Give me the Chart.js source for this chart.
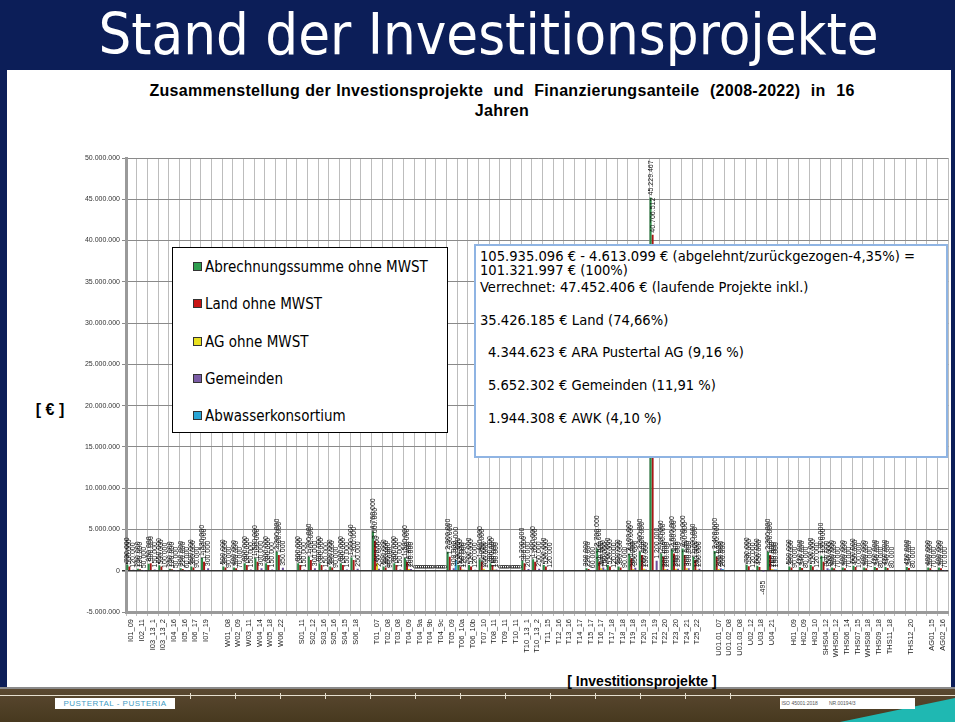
<!DOCTYPE html>
<html><head><meta charset="utf-8">
<script src="https://cdn.jsdelivr.net/npm/chart.js@4"></script>
<style>
html,body{margin:0;padding:0;}
body{width:955px;height:722px;position:relative;overflow:hidden;background:#0c1e58;font-family:"Liberation Sans",Arial,sans-serif;}
#head{position:absolute;left:0;top:0;width:955px;height:70px;background:#0c1e58;}
#head h1{margin:0;position:absolute;left:11px;width:955px;top:3px;text-align:center;color:#fff;font-weight:normal;font-size:57.5px;font-family:"DejaVu Sans Condensed","DejaVu Sans",sans-serif;font-stretch:condensed;line-height:64px;white-space:nowrap;}
#panel{position:absolute;left:7px;top:70px;width:944px;height:617px;background:#fff;}
#pline{position:absolute;left:0;top:687px;width:955px;height:2px;background:#8a8a8a;}
#foot{position:absolute;left:0;top:689px;width:955px;height:33px;background:linear-gradient(#5a4830,#47391f);}
#fline{position:absolute;left:0;top:695px;width:955px;height:1px;background:#e6dfcf;}
.tk{position:absolute;top:693px;width:1px;height:6px;background:#e6dfcf;}
#pbox{position:absolute;left:55px;top:698px;width:120px;height:11px;background:#fff;color:#3f9cc4;font-size:8px;line-height:11px;text-align:center;letter-spacing:0.5px;}
#iso{position:absolute;left:780px;top:698px;width:135px;height:11px;background:#fff;color:#555;font-size:5px;line-height:11px;}
#teal{position:absolute;left:0;top:0;width:955px;height:722px;background:#1fb8b2;clip-path:polygon(840px 722px,955px 698px,955px 722px);}
canvas{position:absolute;left:0;top:0;}
#ctitle{position:absolute;left:100px;top:81px;width:804px;text-align:center;font-weight:bold;font-size:16px;letter-spacing:0.3px;word-spacing:0.5px;line-height:20px;color:#000;}
#ylab{position:absolute;left:20px;top:400px;width:60px;text-align:center;font-weight:bold;font-size:16px;line-height:20px;}
#xlab{position:absolute;left:542px;top:673px;width:200px;text-align:center;font-weight:bold;font-size:14px;line-height:16px;}
#legend{position:absolute;left:172px;top:247px;width:274px;height:184px;border:1px solid #000;background:#fff;}
.li{position:absolute;left:20px;height:18px;font-family:"DejaVu Sans Condensed","DejaVu Sans",sans-serif;font-stretch:condensed;font-size:15px;line-height:18px;white-space:nowrap;color:#000;}
.li i{display:inline-block;width:7px;height:7px;border:1px solid #333;margin-right:3px;vertical-align:1px;}
#note{position:absolute;left:474px;top:244px;width:470px;height:210px;border:2px solid #8fb4e3;background:#fff;}
.nl{position:absolute;font-family:"DejaVu Sans Condensed","DejaVu Sans",sans-serif;font-stretch:condensed;font-size:14.6px;line-height:16px;white-space:nowrap;color:#000;}
</style></head>
<body>
<div id="head"><h1>Stand der Investitionsprojekte</h1></div>
<div id="panel"></div>
<div id="pline"></div>
<div id="foot"></div>
<div id="fline"></div>
<div class="tk" style="left:190px"></div><div class="tk" style="left:235px"></div><div class="tk" style="left:280px"></div><div class="tk" style="left:325px"></div><div class="tk" style="left:370px"></div><div class="tk" style="left:415px"></div><div class="tk" style="left:460px"></div><div class="tk" style="left:505px"></div><div class="tk" style="left:550px"></div><div class="tk" style="left:595px"></div><div class="tk" style="left:640px"></div><div class="tk" style="left:685px"></div><div class="tk" style="left:730px"></div>
<div id="teal"></div>
<div id="pbox">PUSTERTAL - PUSTERIA</div>
<div id="iso">&nbsp;ISO 45001:2018 &nbsp;&nbsp;&nbsp;&nbsp;&nbsp;&nbsp; NR.00194/3</div>
<div id="ctitle">Zusammenstellung der Investionsprojekte &nbsp;und &nbsp;Finanzierungsanteile &nbsp;(2008-2022) &nbsp;in &nbsp;16<br>Jahren</div>
<div id="ylab">[ € ]</div>
<div id="xlab">[ Investitionsprojekte ]</div>
<canvas id="c" width="955" height="722"></canvas>
<div id="legend">
 <div class="li" style="top:10px"><i style="background:#2e9e4f"></i>Abrechnungssumme ohne MWST</div>
 <div class="li" style="top:47px"><i style="background:#c81414"></i>Land ohne MWST</div>
 <div class="li" style="top:85px"><i style="background:#e8e020"></i>AG ohne MWST</div>
 <div class="li" style="top:122px"><i style="background:#7b5ca6"></i>Gemeinden</div>
 <div class="li" style="top:159px"><i style="background:#2aa6d6"></i>Abwasserkonsortium</div>
</div>
<div id="note">
 <div class="nl" style="left:4px;top:2px">105.935.096 € - 4.613.099 € (abgelehnt/zurückgezogen-4,35%) =</div>
 <div class="nl" style="left:4px;top:16px">101.321.997 € (100%)</div>
 <div class="nl" style="left:4px;top:33px">Verrechnet: 47.452.406 € (laufende Projekte inkl.)</div>
 <div class="nl" style="left:4px;top:66px">35.426.185 € Land (74,66%)</div>
 <div class="nl" style="left:12px;top:98px">4.344.623 € ARA Pustertal AG (9,16 %)</div>
 <div class="nl" style="left:12px;top:131px">5.652.302 € Gemeinden (11,91 %)</div>
 <div class="nl" style="left:12px;top:164px">1.944.308 € AWK (4,10 %)</div>
</div>
<script>
const categories = ['I01_09','I02_11','I03_13_1','I03_13_2','I04_16','I05_16','I06_17','I07_19','',
 'W01_08','W02_09','W03_11','W04_14','W05_18','W06_22','',
 'S01_11','S02_12','S03_16','S05_16','S04_15','S06_18','',
 'T01_07','T02_08','T03_08','T04_09','T04_9a','T04_9b','T04_9c','T05_09','T06_10a','T06_10b','T07_10','T08_11','T09_11','T10_11','T10_13_1','T10_13_2','T11_15','T12_16','T13_16','T14_17','T15_17','T16_17','T17_18','T18_18','T19_18','T20_19','T21_19','T22_20','T23_20','T24_21','T25_22','',
 'U01.01_07','U01.02_08','U01.03_08','U02_12','U03_18','U04_21','',
 'H01_09','H02_09','H03_10','SHS04_12','WHS05_12','THS06_14','THS07_15','WHS08_18','THS09_18','THS11_18','',
 'THS12_20','','AG01_15','AG02_16'];

const abrechnungssumme = [730000,250000,850000,650000,250000,300000,500000,1530000,null,
 500000,400000,900000,1500000,900000,2300000,null,
 900000,1700000,900000,500000,900000,1600000,null,
 4760000,500000,900000,1500000,0,0,0,2300000,700000,700000,1400000,900000,0,0,1200000,1400000,700000,null,null,null,300000,2700000,700000,500000,2100000,2300000,45229467,2100000,2600000,2700000,1700000,null,
 2400000,null,null,730000,600000,2300000,null,
 500000,450000,700000,1800000,400000,400000,600000,400000,450000,450000,null,
 450000,null,400000,400000];

const land = [500000,180000,900000,500000,180000,220000,380000,1100000,null,
 380000,300000,680000,1100000,680000,1900000,null,
 680000,1300000,680000,380000,680000,1300000,null,
 3600000,380000,680000,1100000,0,0,0,1700000,520000,520000,1050000,680000,0,0,900000,1100000,520000,null,null,null,220000,1100000,520000,380000,1500000,1900000,40706512,1700000,2100000,1900000,1300000,null,
 1700000,null,null,550000,450000,1900000,null,
 380000,340000,520000,1100000,300000,300000,450000,300000,340000,340000,null,
 340000,null,300000,300000];

const ag = [null,null,null,null,null,null,null,null,null,
 null,null,null,null,null,null,null,
 null,null,null,null,null,null,null,
 900000,100000,null,200000,0,0,0,null,150000,null,250000,150000,0,0,null,null,null,null,null,null,null,300000,null,null,200000,250000,null,200000,250000,300000,150000,null,
 200000,null,null,null,null,200000,null,
 null,null,null,null,null,null,null,null,null,null,null,
 null,null,null,null];

const gemeinden = [120000,50000,150000,100000,50000,60000,90000,300000,null,
 90000,70000,150000,300000,150000,350000,null,
 150000,300000,150000,90000,150000,250000,null,
 250000,90000,150000,200000,0,0,0,300000,120000,120000,100000,150000,0,0,200000,250000,120000,null,null,null,60000,400000,120000,90000,350000,150000,1200000,200000,250000,300000,250000,null,
 300000,null,null,120000,-495,150000,null,
 90000,80000,120000,300000,70000,70000,100000,70000,80000,80000,null,
 80000,null,70000,70000];

const abwasserkonsortium = [null,null,null,null,null,null,null,null,null,
 null,null,null,null,null,null,null,
 null,null,null,null,null,null,null,
 null,null,null,null,0,0,0,1300000,null,null,null,null,0,0,null,null,null,null,null,null,null,150000,null,null,null,null,null,null,null,null,null,null,
 200000,null,null,null,null,150000,null,
 null,null,null,150000,null,null,null,null,null,null,null,
 null,null,null,null];

const yTickMin = -5000000, yTickMax = 50000000, yTickStep = 5000000;

function fmt(v){
  const neg = v < 0; const s = String(Math.abs(Math.round(v))).replace(/\B(?=(\d{3})+(?!\d))/g,'.');
  return (neg?'-':'') + s;
}

const valueLabels = {
  id:'valueLabels',
  afterDatasetsDraw(chart){
    const ctx = chart.ctx;
    ctx.save();
    ctx.font = '7px "Liberation Sans", Arial, sans-serif';
    ctx.fillStyle = '#111';
    ctx.textBaseline = 'middle';
    chart.data.datasets.forEach((ds,di)=>{
      const meta = chart.getDatasetMeta(di);
      meta.data.forEach((el,i)=>{
        const v = ds.data[i];
        if (v === null || v === undefined) return;
        ctx.save();
        if (v >= 0){
          ctx.translate(el.x, el.y - 2);
          ctx.rotate(-Math.PI/2);
          ctx.textAlign = 'left';
        } else {
          ctx.translate(el.x, el.y + 10);
          ctx.rotate(-Math.PI/2);
          ctx.textAlign = 'right';
        }
        ctx.fillText(fmt(v), 0, 0);
        ctx.restore();
      });
    });
    ctx.restore();
  }
};

const mk = (label, data, color) => ({label, data, backgroundColor: color, borderWidth: 0, categoryPercentage: 0.95, barPercentage: 1.0});

new Chart(document.getElementById('c'), {
  type: 'bar',
  data: {
    labels: categories,
    datasets: [
      mk('Abrechnungssumme ohne MWST', abrechnungssumme, '#2a8a44'),
      mk('Land ohne MWST', land, '#a81616'),
      mk('AG ohne MWST', ag, '#e0d020'),
      mk('Gemeinden', gemeinden, '#6e4f9a'),
      mk('Abwasserkonsortium', abwasserkonsortium, '#2a9fd0')
    ]
  },
  options: {
    responsive: false,
    animation: false,
    layout: {padding: {left: 0, right: 5, top: 158, bottom: 0}},
    plugins: {legend: {display: false}, title: {display: false}, tooltip: {enabled: false}},
    scales: {
      x: {
        offset: true,
        grid: {offset: true, color: '#bdbdbd', lineWidth: 1, tickLength: 4},
        border: {color: '#9a9a9a', width: 3},
        ticks: {autoSkip: false, maxRotation: 90, minRotation: 90, padding: 3, color: '#222',
          font: {size: 7.5, family: '"Liberation Sans", Arial, sans-serif'}},
        afterFit: s => { s.height = 110; }
      },
      y: {
        min: yTickMin, max: yTickMax,
        grid: {color: c => (c.tick && c.tick.value === 0) ? '#333' : '#8a8a8a', lineWidth: c => (c.tick && c.tick.value === 0) ? 1.5 : 1, tickLength: 4},
        border: {color: '#9a9a9a', width: 3},
        ticks: {stepSize: yTickStep, padding: 2, color: '#333', callback: v => fmt(v),
          font: {size: 7, family: '"Liberation Sans", Arial, sans-serif'}},
        afterFit: s => { s.width = 126; }
      }
    }
  },
  plugins: [valueLabels]
});
</script>
</body></html>
